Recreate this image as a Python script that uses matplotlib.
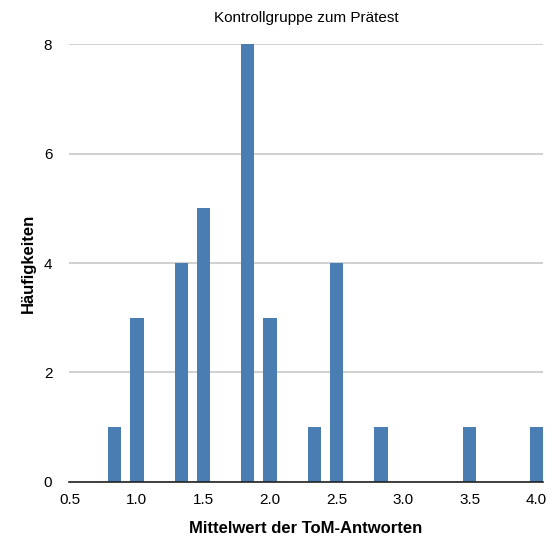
import matplotlib
matplotlib.use("Agg")
import matplotlib.pyplot as plt

# Mittelwerte (in Sechsteln) und Haeufigkeiten
mittelwerte = [5/6, 1.0, 4/3, 1.5, 11/6, 2.0, 7/3, 2.5, 17/6, 3.5, 4.0]
haeufigkeiten = [1, 3, 4, 5, 8, 3, 1, 4, 1, 1, 1]
xticks = [0.5, 1.0, 1.5, 2.0, 2.5, 3.0, 3.5, 4.0]
yticks = [0, 2, 4, 6, 8]

plt.rcParams['font.family'] = ['Liberation Sans', 'DejaVu Sans']

fig = plt.figure(figsize=(5.54, 5.39), dpi=100)
ax = fig.add_axes([0.1245, 0.106, 0.8555, 0.812])

ax.bar(mittelwerte, haeufigkeiten, width=0.1, color='#4a7eb3', zorder=3)

ax.set_xlim(0.49, 4.05)
ax.set_ylim(0, 8)
ax.set_xticks(xticks)
ax.set_xticklabels(['%.1f' % t for t in xticks])
ax.set_yticks(yticks)
ax.grid(axis='y', color='#c8c8c8', linewidth=1.2, zorder=0)
ax.tick_params(length=0, labelsize=11, pad=8)
ax.tick_params(axis='y', pad=12)

for s in ['top', 'right', 'left']:
    ax.spines[s].set_visible(False)
ax.spines['bottom'].set_color('#222222')
ax.spines['bottom'].set_linewidth(1.2)
ax.spines['bottom'].set_zorder(4)

ax.set_title('Kontrollgruppe zum Prätest', fontsize=11, pad=16)
ax.set_xlabel('Mittelwert der ToM-Antworten', fontsize=12, fontweight='bold', labelpad=10)
ax.set_ylabel('Häufigkeiten', fontsize=12, fontweight='bold', labelpad=6)

fig.savefig('out.png', dpi=100)
